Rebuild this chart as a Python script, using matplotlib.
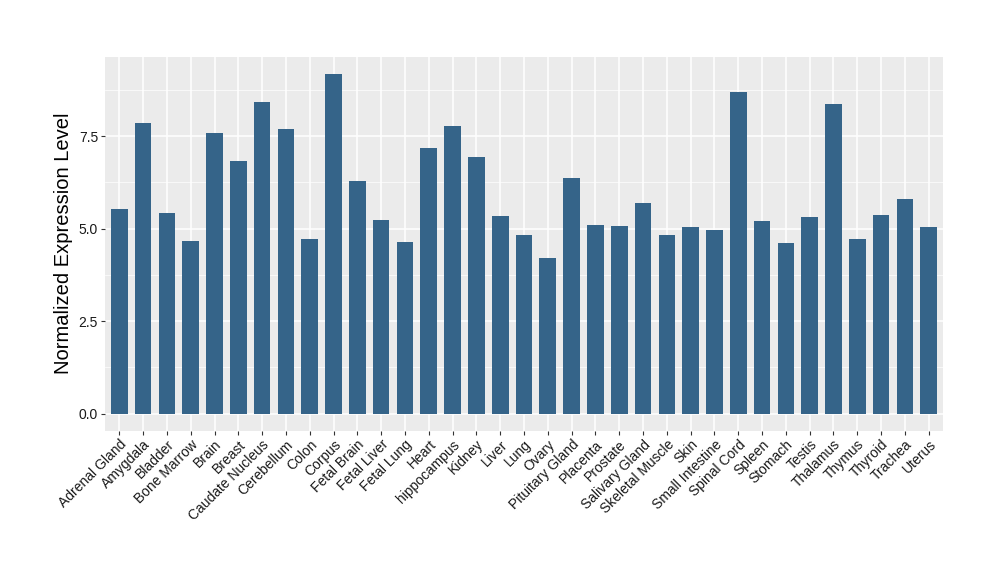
import numpy as np
import matplotlib
matplotlib.use("Agg")
import matplotlib.pyplot as plt

tissues = ["Adrenal Gland", "Amygdala", "Bladder", "Bone Marrow", "Brain", "Breast",
           "Caudate Nucleus", "Cerebellum", "Colon", "Corpus", "Fetal Brain", "Fetal Liver",
           "Fetal Lung", "Heart", "hippocampus", "Kidney", "Liver", "Lung", "Ovary",
           "Pituitary Gland", "Placenta", "Prostate", "Salivary Gland", "Skeletal Muscle",
           "Skin", "Small Intestine", "Spinal Cord", "Spleen", "Stomach", "Testis",
           "Thalamus", "Thymus", "Thyroid", "Trachea", "Uterus"]
expression = [5.52, 7.85, 5.42, 4.66, 7.58, 6.82,
              8.42, 7.69, 4.71, 9.18, 6.28, 5.23,
              4.63, 7.18, 7.77, 6.93, 5.33, 4.82, 4.20,
              6.36, 5.09, 5.06, 5.69, 4.82,
              5.04, 4.96, 8.69, 5.20, 4.60, 5.31,
              8.37, 4.71, 5.36, 5.79, 5.04]
yticks = [0.0, 2.5, 5.0, 7.5]

plt.rcParams['font.family'] = ['Liberation Sans', 'DejaVu Sans']

fig = plt.figure(figsize=(10, 5.8), dpi=100)
ax = fig.add_axes([0.105, (580 - 430.5) / 580, 0.838, (430.5 - 57) / 580])
ax.set_facecolor('#EBEBEB')

x = np.arange(len(tissues))
ax.bar(x, expression, width=0.7, color='#356489', zorder=3)

ymax = max(expression)
ax.set_ylim(-0.05 * ymax, 1.05 * ymax)
ax.set_xlim(-0.6, len(tissues) - 0.4)

ax.set_yticks(yticks)
ax.set_yticklabels(['%.1f' % v for v in yticks])
ax.set_yticks([1.25, 3.75, 6.25, 8.75], minor=True)
ax.set_xticks(x)
ax.set_xticklabels(tissues, rotation=45, ha='right', va='top', rotation_mode='anchor',
                   fontsize=10.5)

ax.grid(which='major', color='white', linewidth=1.1, zorder=0)
ax.grid(which='minor', axis='y', color='white', linewidth=0.5, zorder=0)
ax.tick_params(which='minor', length=0)
ax.tick_params(which='major', length=3, color='#333333', labelsize=10, labelcolor='#1a1a1a', pad=2)
for s in ax.spines.values():
    s.set_visible(False)
ax.set_axisbelow(True)

ax.set_ylabel('Normalized Expression Level', fontsize=14.5, labelpad=4)

fig.savefig('out.png', dpi=100)
